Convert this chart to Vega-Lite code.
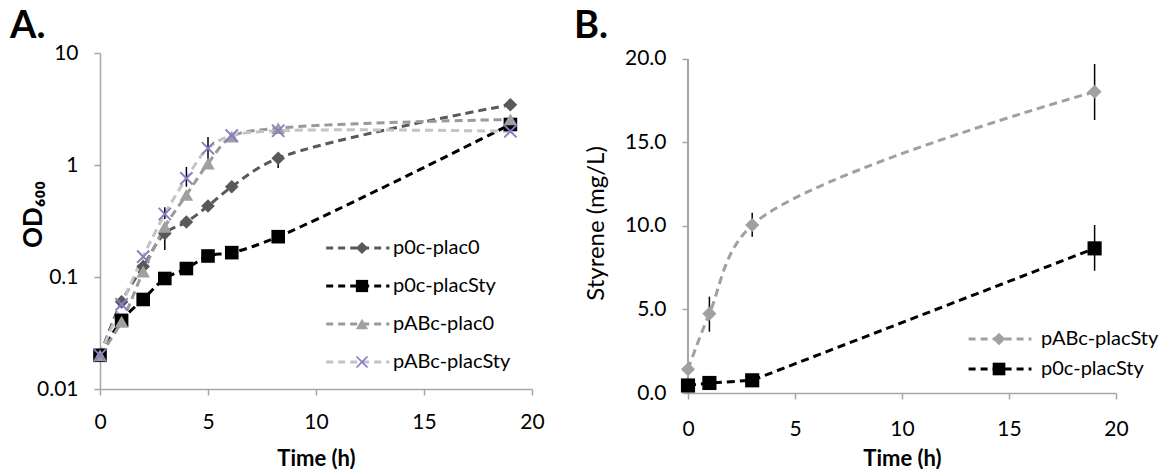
{
  "$schema": "https://vega.github.io/schema/vega-lite/v6.json",
  "padding": {"left": 10, "top": 7, "right": 5, "bottom": 0},
  "background": "white",
  "config": {
    "font": "Lato",
    "view": {"stroke": null},
    "axis": {
      "grid": false,
      "domainColor": "#a6a6a6",
      "domainWidth": 1.5,
      "tickColor": "#a6a6a6",
      "tickWidth": 1.5,
      "tickSize": 6,
      "labelFont": "Lato",
      "labelFontSize": 21,
      "labelColor": "#000000",
      "labelPadding": 16,
      "labelFlush": false,
      "labelOverlap": false,
      "titleFont": "Lato",
      "titleColor": "#000000"
    },
    "legend": {"labelFont": "Lato", "labelColor": "#000000"}
  },
  "resolve": {
    "scale": {"fill": "independent", "shape": "independent", "stroke": "independent"}
  },
  "datasets": {
    "growth": [
      {"series": "p0c-plac0", "t": 0, "od": 0.02},
      {"series": "p0c-plac0", "t": 1, "od": 0.06},
      {"series": "p0c-plac0", "t": 2, "od": 0.124},
      {"series": "p0c-plac0", "t": 3, "od": 0.245, "lo": 0.174, "hi": 0.3},
      {"series": "p0c-plac0", "t": 4, "od": 0.31},
      {"series": "p0c-plac0", "t": 5, "od": 0.43},
      {"series": "p0c-plac0", "t": 6.1, "od": 0.64},
      {"series": "p0c-plac0", "t": 8.25, "od": 1.15, "lo": 0.94, "hi": 1.28},
      {"series": "p0c-plac0", "t": 19, "od": 3.45},
      {"series": "p0c-placSty", "t": 0, "od": 0.02},
      {"series": "p0c-placSty", "t": 1, "od": 0.041},
      {"series": "p0c-placSty", "t": 2, "od": 0.063},
      {"series": "p0c-placSty", "t": 3, "od": 0.097},
      {"series": "p0c-placSty", "t": 4, "od": 0.119},
      {"series": "p0c-placSty", "t": 5, "od": 0.154},
      {"series": "p0c-placSty", "t": 6.1, "od": 0.165},
      {"series": "p0c-placSty", "t": 8.25, "od": 0.229},
      {"series": "p0c-placSty", "t": 19, "od": 2.3},
      {"series": "pABc-plac0", "t": 0, "od": 0.02},
      {"series": "pABc-plac0", "t": 1, "od": 0.04},
      {"series": "pABc-plac0", "t": 2, "od": 0.112},
      {"series": "pABc-plac0", "t": 3, "od": 0.28},
      {"series": "pABc-plac0", "t": 4, "od": 0.54},
      {"series": "pABc-plac0", "t": 5, "od": 1.03},
      {"series": "pABc-plac0", "t": 6.1, "od": 1.79},
      {"series": "pABc-plac0", "t": 8.25, "od": 2.13},
      {"series": "pABc-plac0", "t": 19, "od": 2.55},
      {"series": "pABc-placSty", "t": 0, "od": 0.02},
      {"series": "pABc-placSty", "t": 1, "od": 0.057},
      {"series": "pABc-placSty", "t": 2, "od": 0.152},
      {"series": "pABc-placSty", "t": 3, "od": 0.365, "lo": 0.33, "hi": 0.42},
      {"series": "pABc-placSty", "t": 4, "od": 0.76, "lo": 0.64, "hi": 0.96},
      {"series": "pABc-placSty", "t": 5, "od": 1.41, "lo": 1.11, "hi": 1.78},
      {"series": "pABc-placSty", "t": 6.1, "od": 1.83},
      {"series": "pABc-placSty", "t": 8.25, "od": 2.02},
      {"series": "pABc-placSty", "t": 19, "od": 2.0}
    ],
    "styrene": [
      {"series": "p0c-placSty", "t": 0, "mg": 0.45},
      {"series": "p0c-placSty", "t": 1, "mg": 0.6},
      {"series": "p0c-placSty", "t": 3, "mg": 0.76},
      {"series": "p0c-placSty", "t": 19, "mg": 8.66, "lo": 7.32, "hi": 10.06},
      {"series": "pABc-placSty", "t": 0, "mg": 1.42},
      {"series": "pABc-placSty", "t": 1, "mg": 4.75, "lo": 3.67, "hi": 5.77},
      {"series": "pABc-placSty", "t": 3, "mg": 10.06, "lo": 9.36, "hi": 10.8},
      {"series": "pABc-placSty", "t": 19, "mg": 18.04, "lo": 16.35, "hi": 19.7}
    ]
  },
  "spacing": 29,
  "hconcat": [
    {
      "title": {"text": "A.", "anchor": "start", "fontSize": 38, "fontWeight": "bold", "offset": -4, "dx": -10, "color": "#000000"},
      "width": 432,
      "height": 336,
      "data": {"name": "growth"},
      "layer": [
        {
          "mark": {"type": "line", "strokeDash": [8, 5], "strokeWidth": 3, "interpolate": "catmull-rom"},
          "encoding": {
            "x": {"field": "t", "type": "quantitative", "scale": {"domain": [0, 20], "nice": false},
                  "axis": {"values": [0, 5, 10, 15, 20], "title": "Time (h)", "titleFontSize": 22, "titleFontWeight": "bold", "titlePadding": 16}},
            "y": {"field": "od", "type": "quantitative", "scale": {"type": "log", "domain": [0.01, 10], "nice": false},
                  "axis": {"values": [0.01, 0.1, 1, 10], "format": "~g", "title": "OD₆₀₀", "titleFontSize": 26, "titleFontWeight": "bold", "titleX": -67, "titleY": 161, "titleBaseline": "middle", "titleAlign": "center"}},
            "stroke": {"field": "series", "type": "nominal",
                       "scale": {"range": ["#595959", "#000000", "#9a9a9a", "#c4c4c4"]},
                       "legend": {"orient": "none", "legendX": 269, "legendY": 185, "title": null, "symbolType": "M-6.6,0L1.3,0", "symbolSize": 256, "symbolStrokeWidth": 3, "symbolDash": [7, 5], "labelFontSize": 20, "labelOffset": 4, "rowPadding": 18, "padding": 0}}
          }
        },
        {
          "transform": [{"filter": "isValid(datum.lo)"}],
          "mark": {"type": "rule", "strokeWidth": 1.5, "color": "#000000"},
          "encoding": {
            "x": {"field": "t", "type": "quantitative"},
            "y": {"field": "lo", "type": "quantitative"},
            "y2": {"field": "hi"}
          }
        },
        {
          "mark": {"type": "point", "filled": true, "size": 185, "opacity": 1, "strokeWidth": 0},
          "encoding": {
            "x": {"field": "t", "type": "quantitative"},
            "y": {"field": "od", "type": "quantitative"},
            "fill": {"field": "series", "type": "nominal",
                     "scale": {"domain": ["p0c-plac0", "p0c-placSty", "pABc-plac0", "pABc-placSty"], "range": ["#595959", "#000000", "#a0a0a0", "#8a7cc6"]},
                     "legend": {"orient": "none", "legendX": 252, "legendY": 185, "title": null, "symbolSize": 150, "labelFontSize": 20, "labelExpr": "''", "labelOpacity": 0, "labelOffset": 4, "rowPadding": 18, "padding": 0, "symbolStrokeWidth": 0}},
            "shape": {"field": "series", "type": "nominal",
                      "scale": {"domain": ["p0c-plac0", "p0c-placSty", "pABc-plac0", "pABc-placSty"], "range": ["diamond", "square", "triangle-up", "M-1,-0.8L-0.8,-1L0,-0.2L0.8,-1L1,-0.8L0.2,0L1,0.8L0.8,1L0,0.2L-0.8,1L-1,0.8L-0.2,0Z"]},
                      "legend": {"orient": "none", "legendX": 252, "legendY": 185, "title": null, "symbolSize": 150, "labelFontSize": 20, "labelExpr": "''", "labelOpacity": 0, "labelOffset": 4, "rowPadding": 18, "padding": 0, "symbolStrokeWidth": 0}}
          }
        }
      ]
    },
    {
      "title": {"text": "B.", "anchor": "start", "fontSize": 38, "fontWeight": "bold", "offset": 2, "dx": -10, "color": "#000000"},
      "width": 428,
      "height": 340,
      "data": {"name": "styrene"},
      "layer": [
        {
          "mark": {"type": "rule", "strokeWidth": 1.5, "color": "#a6a6a6"},
          "encoding": {
            "x": {"datum": 0, "type": "quantitative"},
            "y": {"datum": 0, "type": "quantitative"},
            "y2": {"datum": 20}
          }
        },
        {
          "transform": [{"filter": "datum.series === 'pABc-placSty'"}],
          "mark": {"type": "line", "strokeDash": [8, 5], "strokeWidth": 3, "interpolate": "catmull-rom"},
          "encoding": {
            "x": {"field": "t", "type": "quantitative", "scale": {"domain": [0, 20], "nice": false},
                  "axis": {"values": [0, 5, 10, 15, 20], "title": "Time (h)", "titleFontSize": 22, "titleFontWeight": "bold", "titlePadding": 9, "labelPadding": 19}},
            "y": {"field": "mg", "type": "quantitative", "scale": {"domain": [0, 20.359], "nice": false},
                  "axis": {"values": [0, 5, 10, 15, 20], "format": ".1f", "domain": false, "title": "Styrene (mg/L)", "titleFontSize": 24, "titleFontWeight": "normal", "titleX": -92, "titleY": 170, "titleBaseline": "middle", "titleAlign": "center"}},
            "stroke": {"field": "series", "type": "nominal",
                       "sort": "descending",
                       "scale": {"range": ["#a0a0a0", "#000000"]},
                       "legend": {"orient": "none", "legendX": 329, "legendY": 276, "title": null, "symbolType": "M-7.3,0L0.56,0", "symbolSize": 256, "symbolStrokeWidth": 3, "symbolDash": [7, 5], "labelFontSize": 20, "labelOffset": 4, "rowPadding": 10, "padding": 0}}
          }
        },
        {
          "transform": [{"filter": "datum.series === 'p0c-placSty'"}],
          "mark": {"type": "line", "strokeDash": [8, 5], "strokeWidth": 3},
          "encoding": {
            "x": {"field": "t", "type": "quantitative"},
            "y": {"field": "mg", "type": "quantitative"},
            "stroke": {"field": "series", "type": "nominal", "sort": "descending"}
          }
        },
        {
          "transform": [{"filter": "isValid(datum.lo)"}],
          "mark": {"type": "rule", "strokeWidth": 1.5, "color": "#000000"},
          "encoding": {
            "x": {"field": "t", "type": "quantitative"},
            "y": {"field": "lo", "type": "quantitative"},
            "y2": {"field": "hi"}
          }
        },
        {
          "mark": {"type": "point", "filled": true, "size": 200, "opacity": 1, "strokeWidth": 0},
          "encoding": {
            "x": {"field": "t", "type": "quantitative"},
            "y": {"field": "mg", "type": "quantitative"},
            "fill": {"field": "series", "type": "nominal",
                     "scale": {"domain": ["pABc-placSty", "p0c-placSty"], "range": ["#a0a0a0", "#000000"]},
                     "legend": {"orient": "none", "legendX": 301, "legendY": 276, "title": null, "symbolSize": 160, "labelFontSize": 20, "labelExpr": "''", "labelOpacity": 0, "labelOffset": 4, "rowPadding": 10, "padding": 0, "symbolStrokeWidth": 0}},
            "shape": {"field": "series", "type": "nominal",
                      "scale": {"domain": ["pABc-placSty", "p0c-placSty"], "range": ["diamond", "square"]},
                      "legend": {"orient": "none", "legendX": 301, "legendY": 276, "title": null, "symbolSize": 160, "labelFontSize": 20, "labelExpr": "''", "labelOpacity": 0, "labelOffset": 4, "rowPadding": 10, "padding": 0, "symbolStrokeWidth": 0}}
          }
        }
      ]
    }
  ]
}
